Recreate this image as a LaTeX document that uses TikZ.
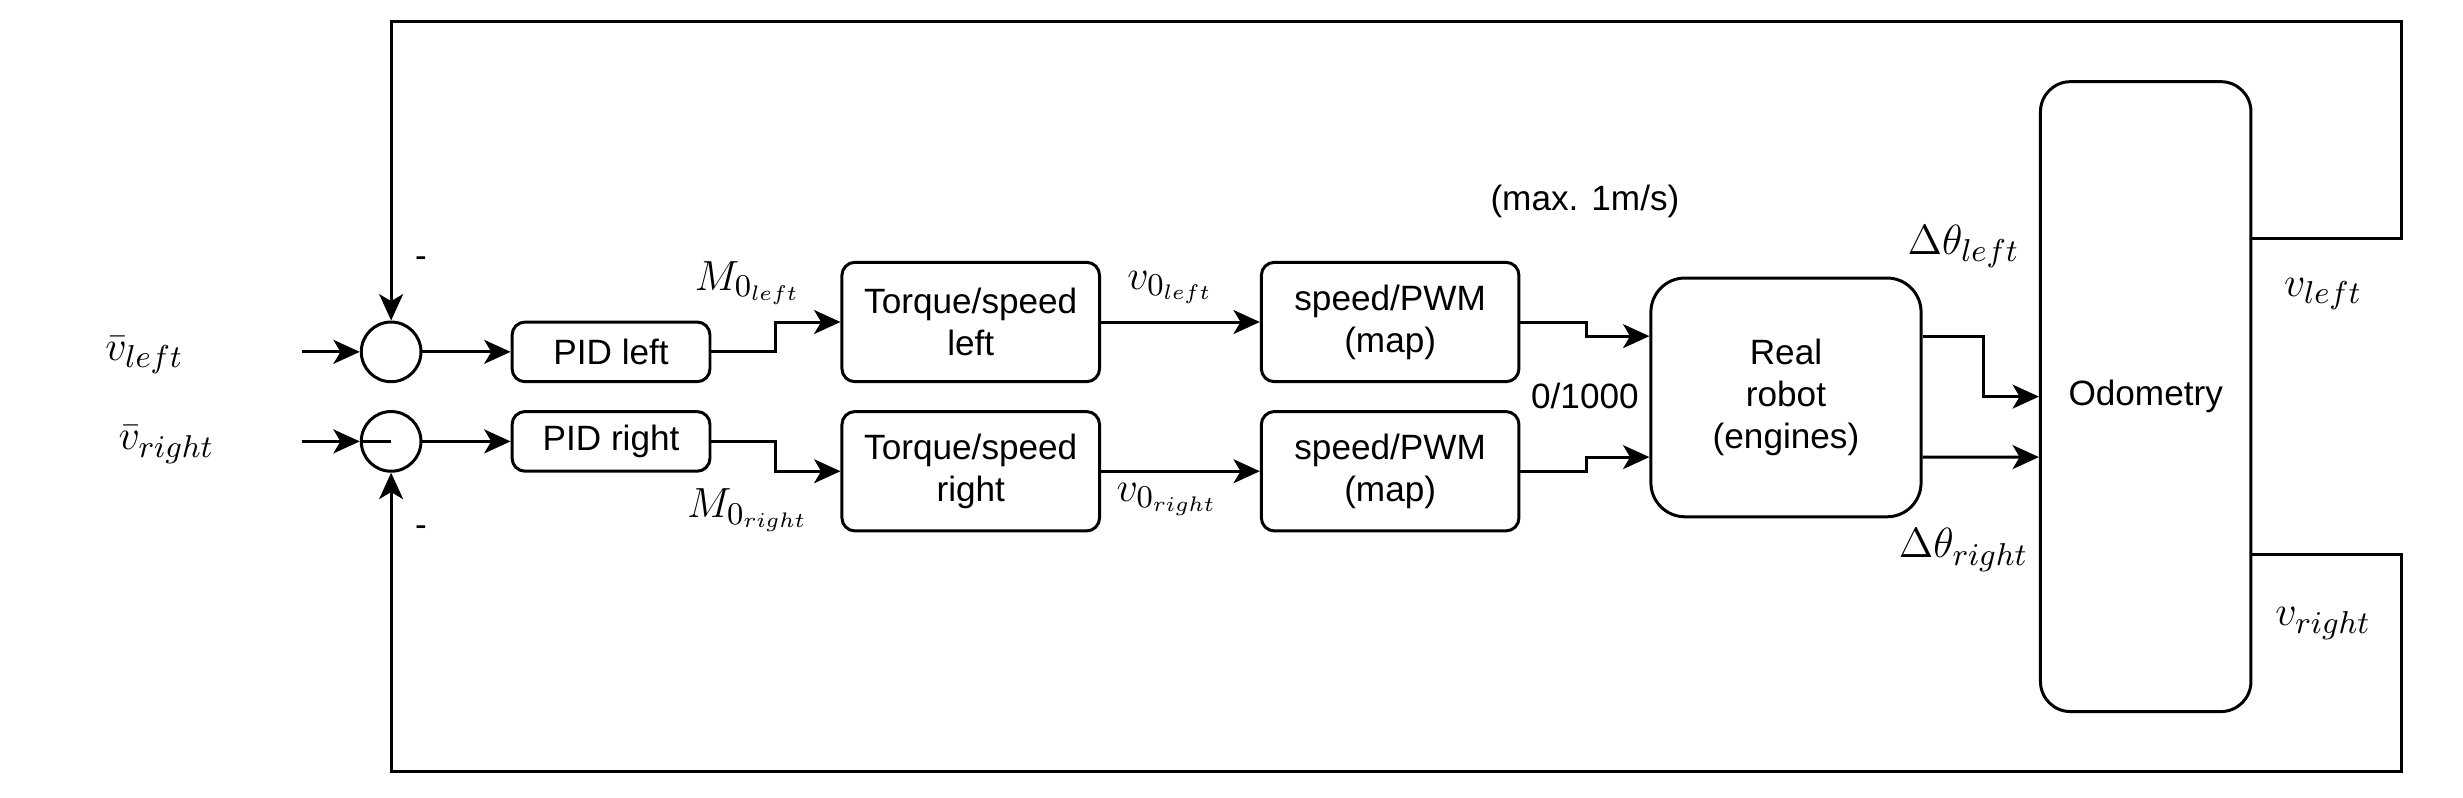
\documentclass[tikz,border=0pt]{standalone}
\usepackage{fontspec}
\setmainfont{Liberation Sans}
\usepackage{amsmath}
\usetikzlibrary{arrows.meta,calc}
\newcommand{\ux}{0.015708cm}
\begin{document}
\begin{tikzpicture}[x=0.015708cm,y=-0.015708cm,
  line width=0.85pt,
  arr/.style={-{Stealth[length=7.5pt,width=6.8pt,inset=2pt]}},
  blk/.style={draw, rounded corners=0.13cm, align=center, inner sep=0pt,
    font=\fontsize{10}{12}\selectfont},
  sumnode/.style={draw, circle, minimum size=38*\ux, inner sep=0pt},
  lbl/.style={inner sep=0pt, font=\fontsize{12.5}{14}\selectfont},
  txt/.style={inner sep=0pt, font=\fontsize{10}{12}\selectfont}]
\useasboundingbox (0,0) rectangle (1568,508);
% summing junctions
\node[sumnode] (s1) at (249,224) {};
\node[sumnode] (s2) at (249,281) {};
% blocks
\node[blk, minimum width=126*\ux, minimum height=38*\ux] (pidl) at (389,224) {PID left};
\node[blk, minimum width=126*\ux, minimum height=38*\ux] (pidr) at (389,281) {PID right};
\node[blk, minimum width=164*\ux, minimum height=76*\ux] (tl) at (618,205) {Torque/speed\\left};
\node[blk, minimum width=164*\ux, minimum height=76*\ux] (tr) at (618,300) {Torque/speed\\right};
\node[blk, minimum width=164*\ux, minimum height=76*\ux] (ml) at (885,205) {speed/PWM\\(map)};
\node[blk, minimum width=164*\ux, minimum height=76*\ux] (mr) at (885,300) {speed/PWM\\(map)};
\node[blk, rounded corners=0.34cm, minimum width=172*\ux, minimum height=152*\ux] (rob) at (1137,253) {Real\\robot\\(engines)};
\node[blk, rounded corners=0.3cm, minimum width=134*\ux, minimum height=401*\ux] (odo) at (1366,252.5) {Odometry};
% coordinates
\coordinate (in1) at (192,224);
\coordinate (in2) at (192,281);
\coordinate (fbtl) at (249,14);
\coordinate (fbtr) at (1529,14);
\coordinate (fbbl) at (249,491);
\coordinate (fbbr) at (1529,491);
% inputs
\draw[arr] (in1) -- (s1.west);
\draw[arr] (in2) -- (s2.west);
\draw (s2.west) -- (s2.center);
\draw[arr] (s1.east) -- (pidl.west);
\draw[arr] (s2.east) -- (pidr.west);
\draw[arr] (pidl.east) -- ++(41,0) |- (tl.west);
\draw[arr] (pidr.east) -- ++(41,0) |- (tr.west);
\draw[arr] (tl.east) -- (ml.west);
\draw[arr] (tr.east) -- (mr.west);
\draw[arr] (ml.east) -- ++(42,0) |- ($(rob.west)+(0,-39)$);
\draw[arr] (mr.east) -- ++(42,0) |- ($(rob.west)+(0,38)$);
\draw[arr] ($(rob.east)+(0,-39)$) -- ++(39,0) |- (odo.west);
\draw[arr] ($(rob.east)+(0,38)$) -- ($(odo.west)+(0,38.5)$);
% feedback
\draw[arr] ($(odo.east)+(0,-100.5)$) -| (fbtr) -- (fbtl) -- (s1.north);
\draw[arr] ($(odo.east)+(0,100.5)$) -| (fbbr) -- (fbbl) -- (s2.south);
% labels
\node[lbl] (lvl) at (92,226) {$\bar{v}_{left}$};
\node[lbl] (lvr) at (106,283) {$\bar{v}_{right}$};
\node[txt] (m1) at (268,167) {-};
\node[txt] (m2) at (268,338) {-};
\node[lbl] (lml) at (476,180) {$M_{0_{left}}$};
\node[lbl] (lmr) at (476,325) {$M_{0_{right}}$};
\node[lbl] (lv0l) at (745,183) {$v_{0_{left}}$};
\node[lbl] (lv0r) at (743,318) {$v_{0_{right}}$};
\node[txt] (lmax) at (1009,128) {(max. 1m/s)};
\node[txt] (lpwm) at (1009,252) {0/1000};
\node[lbl] (ldl) at (1250,157) {$\Delta\theta_{left}$};
\node[lbl] (ldr) at (1250,350) {$\Delta\theta_{right}$};
\node[lbl] (lol) at (1479,187) {$v_{left}$};
\node[lbl] (lor) at (1479,397) {$v_{right}$};
\end{tikzpicture}
\end{document}
